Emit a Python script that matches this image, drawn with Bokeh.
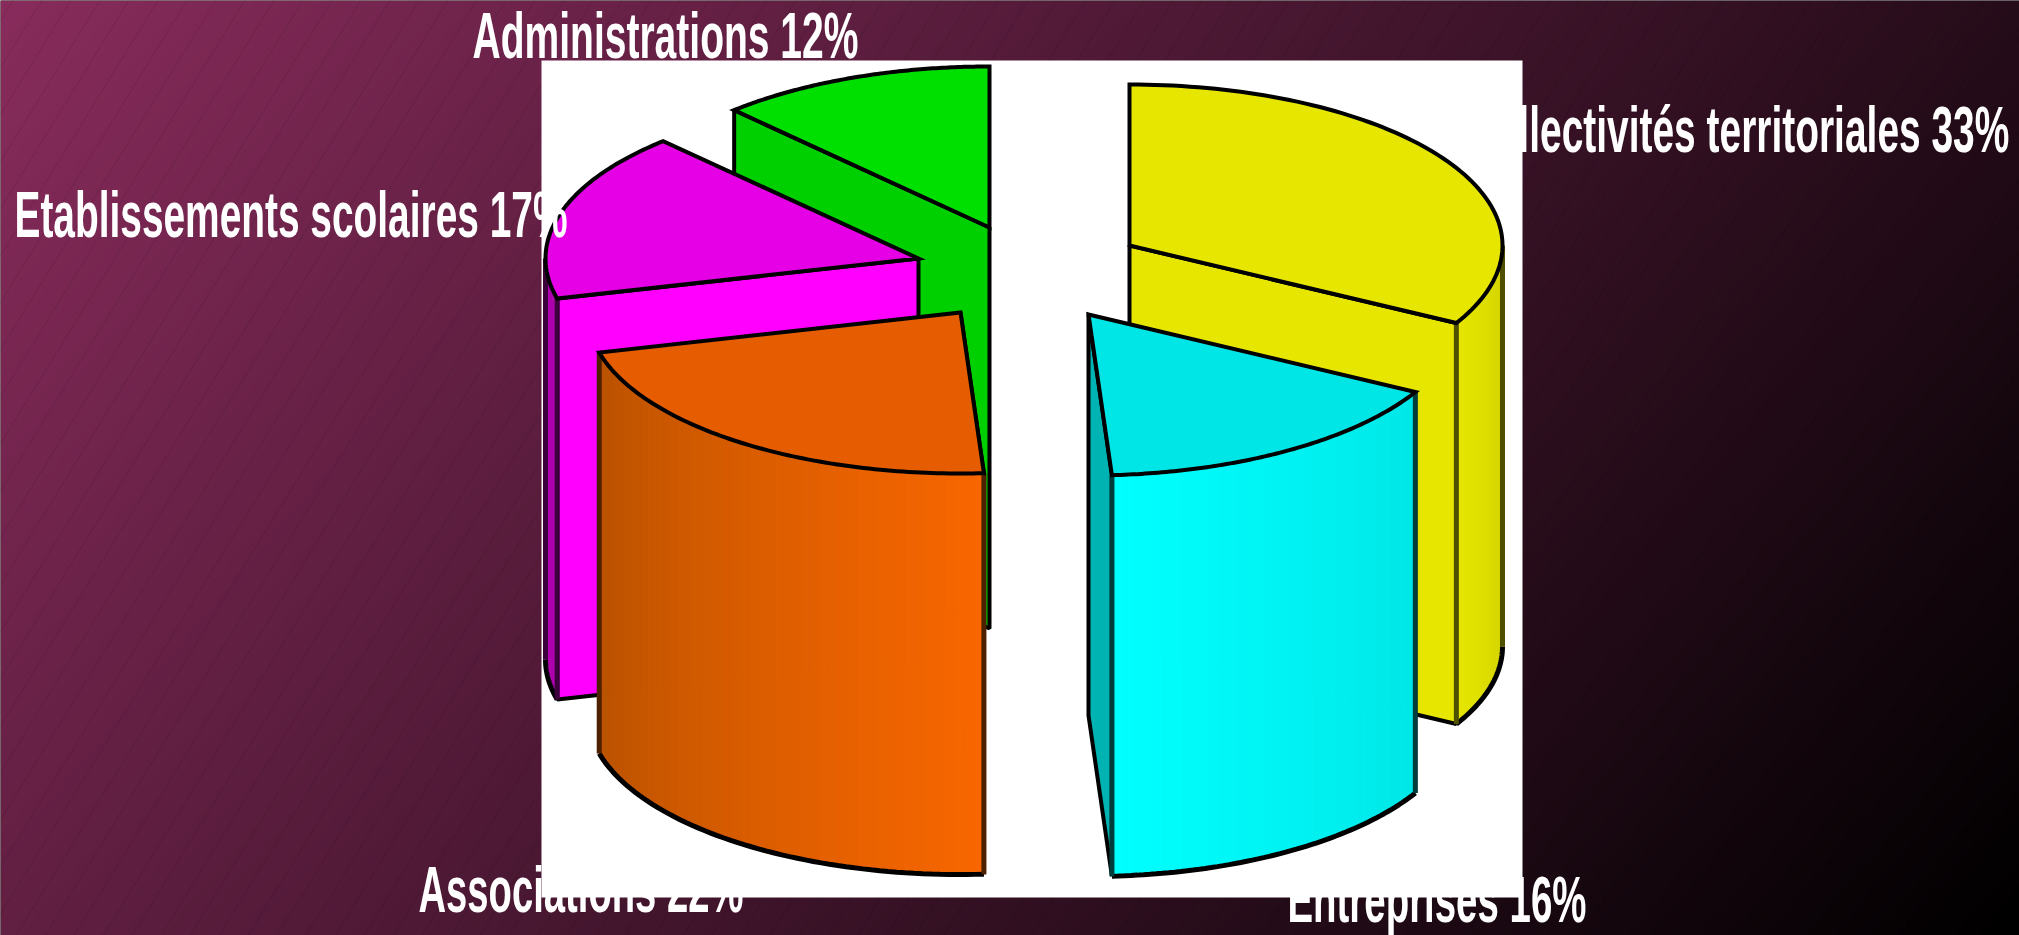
import json
import numpy as np
from bokeh.plotting import figure
from bokeh.models import Range1d, ColumnDataSource
from bokeh.core.properties import value
from bokeh.embed import file_html
from bokeh.resources import INLINE

# ---- data ----
categories = ["Collectivités territoriales", "Entreprises", "Associations",
              "Etablissements scolaires", "Administrations"]
shares = [33, 16, 22, 17, 12]

# ---- colours ----
top_colors = ["#e6e600", "#00e6e6", "#e65c00", "#e600e6", "#00e000"]
flank_colors = ["#e6e600", "#00b3b3", "#c85000", "#ff00ff", "#00d000"]
rim_from = ["#cfcf00", "#00e6e6", "#f86600", "#a800a8", "#00a000"]
rim_to = ["#e6e600", "#00ffff", "#b85200", "#b800b8", "#00a000"]
flank_side = ["end", "end", "start", "start", "start"]
edge_colors = ["#4f4f00", "#003c3c", "#4d2000", "#3c003c", "#003c00"]

# ---- layout, in page pixels ----
W, H = 2019, 935
centers_x = [1129, 1088, 960, 918, 989]
centers_y = [245, 314, 312, 258, 227]
RX, RY, DEPTH = 373, 161, 401
paint_order = [4, 3, 2, 0, 1]
label_x = [1466, 1287, 418, 14, 472]
label_base = [154, 923, 913, 238, 60]
label_w = [543, 299, 325, 553, 386]
BASE_SHIFT = -24
SHEET = (541, 1522, 60, 897)

p = figure(width=W, height=H, output_backend="svg", toolbar_location=None,
           x_range=Range1d(0, W), y_range=Range1d(H, 0), min_border=0,
           outline_line_color=None, background_fill_color="#000000",
           border_fill_color="#000000")
p.axis.visible = False
p.xgrid.visible = False
p.ygrid.visible = False

# backdrop: diagonal gradient
gw, gh = 505, 234
gx = (np.arange(gw) + .5) / gw
gy = (np.arange(gh) + .5) / gh
xx, yy = np.meshgrid(gx, gy)
t = np.clip(0.72 * xx + 0.28 * yy, 0, 1)
rgba = np.zeros((gh, gw, 4), dtype=np.uint8)
for i, c in enumerate((136, 44, 92)):
    rgba[:, :, i] = (c * (1 - t)).astype(np.uint8)
rgba[:, :, 3] = 255
img = rgba.view(dtype=np.uint32).reshape((gh, gw))
p.image_rgba(image=[img], x=[0], y=[0], dw=[W], dh=[H])

# backdrop: hairline hatch
starts = np.arange(-100, W + 700, 29.0)
p.segment(x0=starts - 700, y0=np.full_like(starts, H + 100.0),
          x1=starts, y1=np.full_like(starts, -100.0),
          line_color="#000000", line_alpha=0.1, line_width=1)

# white sheet
p.quad(left=[SHEET[0]], right=[SHEET[1]], top=[SHEET[2]], bottom=[SHEET[3]],
       fill_color="#ffffff", line_color=None)


def rim(cx, cy, theta):
    a = np.radians(theta)
    return cx + RX * np.sin(a), cy - RY * np.cos(a)


def mix(c1, c2, f):
    a = [int(c1[i:i + 2], 16) for i in (1, 3, 5)]
    b = [int(c2[i:i + 2], 16) for i in (1, 3, 5)]
    return "#%02x%02x%02x" % tuple(round(u + (v - u) * f) for u, v in zip(a, b))


edges = np.cumsum([0] + shares) * 3.6
for k in paint_order:
    cx, cy = centers_x[k], centers_y[k]
    th0, th1 = edges[k], edges[k + 1]

    # flat cut face
    th = th1 if flank_side[k] == "end" else th0
    rx_, ry_ = rim(cx, cy, th)
    p.patch([cx, rx_, rx_, cx], [cy, ry_, ry_ + DEPTH, cy + DEPTH],
            fill_color=flank_colors[k], line_color="#000000", line_width=4)

    # outer curved wall, shaded in narrow bands
    lo, hi = max(th0, 90), min(th1, 270)
    if hi > lo:
        n = max(int((hi - lo) / 1.5), 2)
        bands = np.linspace(lo, hi, n + 1)
        for j in range(n):
            arc = np.linspace(bands[j], bands[j + 1], 4)
            ax, ay = rim(cx, cy, arc)
            col = mix(rim_from[k], rim_to[k], (j + .5) / n)
            p.patch(list(ax) + list(ax[::-1]), list(ay) + list(ay[::-1] + DEPTH),
                    fill_color=col, line_color=col, line_width=1)
        arc = np.linspace(lo, hi, 60)
        ax, ay = rim(cx, cy, arc)
        p.line(ax, ay + DEPTH, line_color="#000000", line_width=5)
        p.segment(x0=[ax[0], ax[-1]], y0=[ay[0], ay[-1]],
                  x1=[ax[0], ax[-1]], y1=[ay[0] + DEPTH, ay[-1] + DEPTH],
                  line_color=edge_colors[k], line_width=5)

    # top face
    arc = np.linspace(th0, th1, 90)
    ax, ay = rim(cx, cy, arc)
    p.patch([cx] + list(ax), [cy] + list(ay), fill_color=top_colors[k],
            line_color="#000000", line_width=4, line_join="miter")

# labels
texts = [f"{c} {s}%" for c, s in zip(categories, shares)]
src = ColumnDataSource(dict(x=label_x, y=label_base, t=texts))
p.text(x="x", y="y", text="t", source=src, text_color="#ffffff",
       text_font=value("Liberation Sans"), text_font_style="bold",
       text_font_size="64px", text_align="left", text_baseline="alphabetic",
       y_offset=BASE_SHIFT)

html = file_html(p, INLINE)

widths = json.dumps(dict(zip(texts, label_w)))
squeeze = """
<script>
(function(){
  var widths = %s;
  function walk(root){
    root.querySelectorAll('*').forEach(function(e){
      if(e.shadowRoot) walk(e.shadowRoot);
      if(e.tagName.toLowerCase()==='text' && !e.getAttribute('data-sq') && widths[e.textContent]){
        var b = e.getBBox();
        if(!b.width) return;
        var x = parseFloat(e.getAttribute('x')||0), y = parseFloat(e.getAttribute('y')||0);
        var s = widths[e.textContent]/b.width;
        var old = e.getAttribute('transform')||'';
        e.setAttribute('transform', old+' translate('+x+' '+y+') scale('+s+' 1) translate('+(-x)+' '+(-y)+')');
        e.setAttribute('data-sq','1');
      }
    });
  }
  var n=0, h=setInterval(function(){ walk(document); if(++n>100) clearInterval(h); },30);
})();
</script>
""" % widths
html = html.replace("<body>", '<body style="overflow:hidden;">').replace("</body>", squeeze + "</body>")
open("out.html", "w").write(html)
